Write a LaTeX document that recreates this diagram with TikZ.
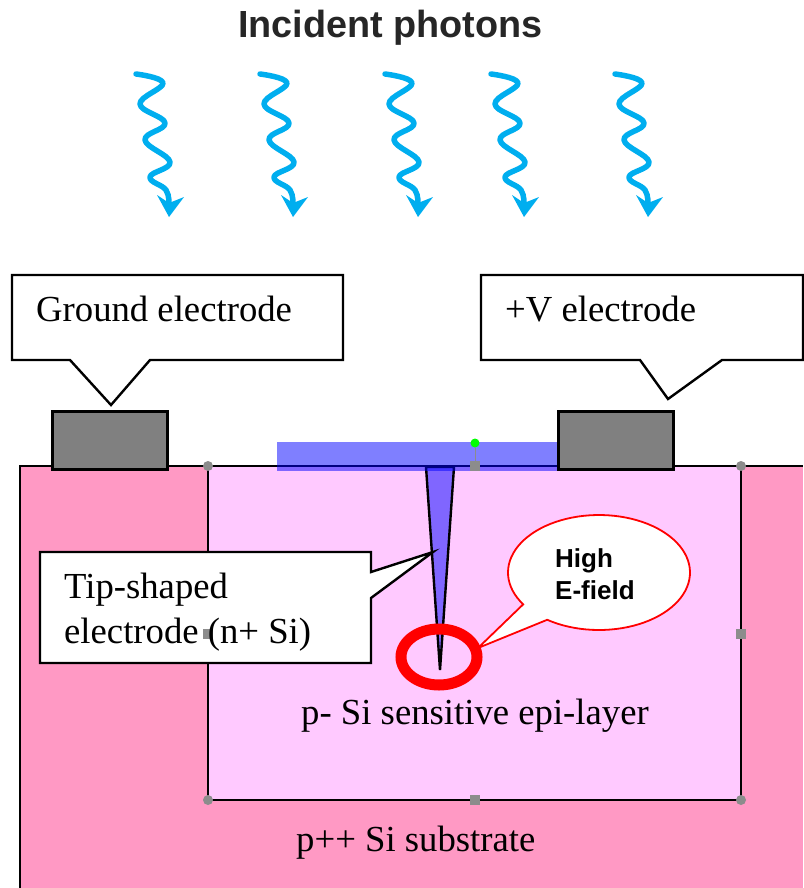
\documentclass[tikz,border=0pt]{standalone}
\usepackage{fontspec}
\setmainfont{Liberation Serif}
\setsansfont{Liberation Sans}
\usepackage{xcolor}
\usetikzlibrary{calc,shapes.geometric}
\definecolor{substrate}{HTML}{FF99C4}
\definecolor{epilayer}{HTML}{FFC9FF}
\definecolor{photon}{HTML}{00AEEF}
\definecolor{metal}{HTML}{808080}
\definecolor{handle}{HTML}{8C8C8C}
\definecolor{tipfill}{HTML}{8066FF}
\tikzset{
  base/.style={draw=black, line width=2.4pt},
  callout/.style={draw=black, fill=white, line width=2.4pt, line join=miter},
  balloon/.style={draw=red, fill=white, line width=1.8pt, line join=miter},
  elec/.style={draw=black, fill=metal, line width=2.6pt, minimum width=115pt, minimum height=58pt, inner sep=0pt},
  lab/.style={anchor=base west, inner sep=0pt, font=\fontsize{36.7}{45}\selectfont, align=left},
  labs/.style={anchor=base west, inner sep=0pt, font=\sffamily\bfseries\fontsize{26}{32}\selectfont, align=left},
  round handle/.style={circle, fill=handle, inner sep=0pt, minimum size=10pt},
  square handle/.style={rectangle, fill=handle, inner sep=0pt, minimum size=10pt},
  photon line/.style={draw=photon, line width=5.5pt, line cap=round, line join=round},
  photon arrow/.pic={
    \draw[photon line] plot[smooth, tension=0.7] coordinates {(136,74) (163,83) (140,104) (165,123) (145,140) (170,162) (150,177) (166,190) (169,205)};
    \fill[photon] (157,195) -- (169,217) -- (184,197) -- (169,203) -- cycle;
  },
}
\begin{document}
\begin{tikzpicture}[x=1pt,y=-1pt]
  \useasboundingbox (0,0) rectangle (803,888);
  % layers
  \fill[substrate] (20,466) rectangle (803,888);
  \draw[base] (20,888) -- (20,466) -- (803,466);
  \draw[base, fill=epilayer] (208,466) rectangle (741,800);
  % photons
  \node[anchor=base west, inner sep=0pt, text=black!85, font=\sffamily\bfseries\fontsize{37.8}{40}\selectfont] (title) at (238,38) {Incident photons};
  \foreach \dx in {0,124,249,355,479}
    \pic at (\dx,0) {photon arrow};
  % tip electrode and top contact
  \draw[base, fill=tipfill] (426,467) -- (454,467) -- (440,670) -- cycle;
  \fill[blue, opacity=0.5] (277,442) rectangle (558,471);
  % electrodes
  \node[elec] (ground) at (110,440.5) {};
  \node[elec] (plusv) at (616,440.5) {};
  % callouts
  \draw[callout] (12,275) -- (343,275) -- (343,360) -- (150,360) -- (111,405) -- (70,360) -- (12,360) -- cycle;
  \draw[callout] (481,275) -- (803,275) -- (803,360) -- (722,360) -- (668,399) -- (640,360) -- (481,360) -- cycle;
  \draw[callout] (40,552) -- (371,552) -- (371,572) -- (433,552) -- (371,598) -- (371,663) -- (40,663) -- cycle;
  \draw[balloon] plot[domain=124.7:-213.6, samples=90] ({599+91*cos(\x)},{572.5+57.5*sin(\x)}) -- (478,648) -- cycle;
  \draw[red, line width=11pt] (439,657) ellipse (38pt and 28pt);
  % handles
  \node[round handle] (hnw) at (208,466) {};
  \node[round handle] (hne) at (741,466) {};
  \node[round handle] (hsw) at (208,800) {};
  \node[round handle] (hse) at (741,800) {};
  \node[square handle] (hn) at (475,466) {};
  \node[square handle] (he) at (741,634) {};
  \node[square handle] (hs) at (475,800) {};
  \node[square handle] (hw) at (208,634) {};
  \node[circle, fill=green, inner sep=0pt, minimum size=9pt] (hrot) at (475,443) {};
  \draw[handle, line width=1pt] (hrot) -- (hn);
  % labels
  \node[lab] (groundlab) at (36,321) {Ground electrode};
  \node[lab] (plusvlab) at (505,321) {+V electrode};
  \node[lab] (tiplab) at (64,598) {Tip-shaped};
  \node[lab] (tiplabb) at (64,643) {electrode (n+ Si)};
  \node[lab] (epilab) at (301,724) {p- Si sensitive epi-layer};
  \node[lab] (sublab) at (296,851) {p++ Si substrate};
  \node[labs] (fieldlab) at (555,567) {High};
  \node[labs] (fieldlabb) at (555,599) {E-field};
\end{tikzpicture}
\end{document}
